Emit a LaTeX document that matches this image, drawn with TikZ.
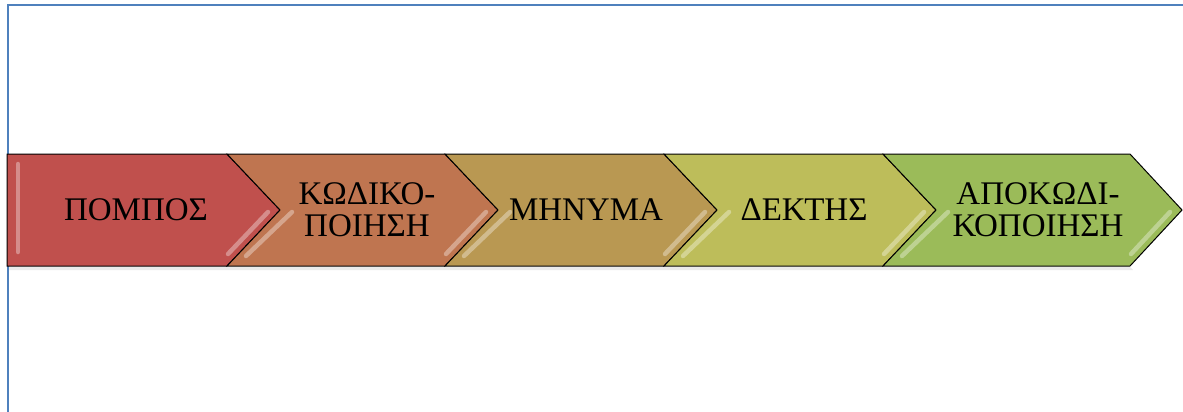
\documentclass[tikz,border=0pt]{standalone}
\usepackage{fontspec}
\setmainfont{Liberation Serif}
\usepackage{xcolor}
\definecolor{frameblue}{HTML}{4F81BD}
\definecolor{sendred}{HTML}{C0504D}
\definecolor{encbrown}{HTML}{BF7550}
\definecolor{msgtan}{HTML}{B99852}
\definecolor{recvolive}{HTML}{BDBD5A}
\definecolor{decgreen}{HTML}{9BBB59}
\usepackage{tikz}
\usetikzlibrary{positioning,calc}

\begin{document}
\begin{tikzpicture}[x=1pt, y=-1pt,
    every node/.style={font=\fontsize{33}{32}\selectfont},
    chev/.style={draw=black, line width=1pt, line join=miter},
    glint/.style={line width=4.5pt, line cap=round, white, opacity=0.35},
    lbl/.style={align=center, inner sep=0pt, text=black}]
  \useasboundingbox (0,0) rectangle (1183,412);
  % frame
  \draw[frameblue, line width=2pt] (8,412) -- (8,5) -- (1183,5);
  % soft shadow
  \fill[black, opacity=0.08] (9,267) -- (1130,267) -- (1133,270) -- (9,270) -- cycle;
  % chevrons
  \filldraw[chev, fill=sendred]   (7,154) -- (227,154) -- (280,210) -- (227,266) -- (7,266) -- cycle;
  \filldraw[chev, fill=encbrown]  (227,154) -- (445,154) -- (498,210) -- (445,266) -- (227,266) -- (280,210) -- cycle;
  \filldraw[chev, fill=msgtan]    (445,154) -- (664,154) -- (717,210) -- (664,266) -- (445,266) -- (498,210) -- cycle;
  \filldraw[chev, fill=recvolive] (664,154) -- (883,154) -- (936,210) -- (883,266) -- (664,266) -- (717,210) -- cycle;
  \filldraw[chev, fill=decgreen]  (883,154) -- (1130,154) -- (1182,210) -- (1130,266) -- (883,266) -- (936,210) -- cycle;
  % bevel highlights
  \draw[glint] (18,164) -- (18,252);
  \draw[glint] (268,212) -- (228,254);
  \draw[glint] (292,212) -- (246,256);
  \draw[glint] (486,212) -- (446,254);
  \draw[glint] (510,212) -- (464,256);
  \draw[glint] (705,212) -- (665,254);
  \draw[glint] (729,212) -- (683,256);
  \draw[glint] (924,212) -- (884,254);
  \draw[glint] (948,212) -- (902,256);
  \draw[glint] (1170,212) -- (1131,254);
  % labels
  \node[lbl] (pompos)  at (136,210)  {ΠΟΜΠΟΣ};
  \node[lbl] (kodik)   at (367,210)  {ΚΩΔΙΚΟ-\\ΠΟΙΗΣΗ};
  \node[lbl] (minyma)  at (586,210)  {ΜΗΝΥΜΑ};
  \node[lbl] (dektis)  at (804,210)  {ΔΕΚΤΗΣ};
  \node[lbl] (apokod)  at (1038,210) {ΑΠΟΚΩΔΙ-\\ΚΟΠΟΙΗΣΗ};
\end{tikzpicture}
\end{document}
